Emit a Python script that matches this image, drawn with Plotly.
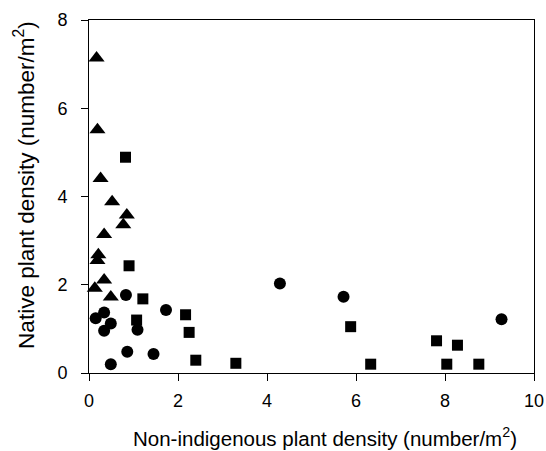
import plotly.graph_objects as go

tri_x = [0.17, 0.19, 0.26, 0.52, 0.85, 0.77, 0.34, 0.21, 0.19, 0.34, 0.13, 0.49]
tri_y = [7.14, 5.51, 4.41, 3.88, 3.58, 3.36, 3.14, 2.68, 2.55, 2.11, 1.92, 1.72]

sq_x = [0.82, 0.90, 1.21, 1.07, 2.17, 2.25, 2.40, 3.30, 5.88, 6.33, 7.81, 8.28, 8.04, 8.76]
sq_y = [4.89, 2.43, 1.68, 1.20, 1.32, 0.92, 0.29, 0.22, 1.05, 0.20, 0.73, 0.63, 0.20, 0.20]

circ_x = [4.29, 5.72, 9.27, 1.73, 0.83, 0.86, 1.45, 0.49, 0.34, 0.15, 0.49, 0.34, 1.09]
circ_y = [2.03, 1.73, 1.22, 1.43, 1.77, 0.48, 0.43, 0.20, 1.37, 1.24, 1.12, 0.96, 0.98]

x_ticks = [0, 2, 4, 6, 8, 10]
y_ticks = [0, 2, 4, 6, 8]

x_title = "Non-indigenous plant density (number/m<sup>2</sup>)"
y_title = "Native plant density (number/m<sup>2</sup>)"

fig = go.Figure()
fig.add_trace(go.Scatter(x=tri_x, y=tri_y, mode="markers",
                         marker=dict(symbol="triangle-up", size=14, color="black"),
                         cliponaxis=False, showlegend=False))
fig.add_trace(go.Scatter(x=sq_x, y=sq_y, mode="markers",
                         marker=dict(symbol="square", size=11, color="black"),
                         cliponaxis=False, showlegend=False))
fig.add_trace(go.Scatter(x=circ_x, y=circ_y, mode="markers",
                         marker=dict(symbol="circle", size=12, color="black"),
                         cliponaxis=False, showlegend=False))

axis_common = dict(showline=True, linecolor="black", linewidth=1, mirror=True,
                   ticks="outside", ticklen=7, tickcolor="black", showgrid=False,
                   zeroline=False, automargin=False,
                   tickfont=dict(size=18, color="black"))

fig.update_xaxes(range=[0, 10], tickvals=x_ticks, ticklabelstandoff=4, **axis_common)
fig.update_yaxes(range=[0, 8], tickvals=y_ticks, ticklabelstandoff=10, **axis_common)

fig.add_annotation(text=x_title, xref="paper", yref="paper", x=0.530, y=-0.181,
                   xanchor="center", yanchor="middle", showarrow=False,
                   font=dict(size=20.5, color="black"))
fig.add_annotation(text=y_title, xref="paper", yref="paper", x=-0.146, y=0.533,
                   xanchor="center", yanchor="middle", showarrow=False, textangle=-90,
                   font=dict(size=22.5, color="black"))

fig.update_layout(width=546, height=451, margin=dict(l=89, r=12, t=20, b=78, autoexpand=False),
                  plot_bgcolor="white", paper_bgcolor="white",
                  font=dict(family="Liberation Sans, Arial, sans-serif", color="black"))

fig.write_html("out.html", config={"displayModeBar": False},
               post_script="document.body.style.margin='0';")
